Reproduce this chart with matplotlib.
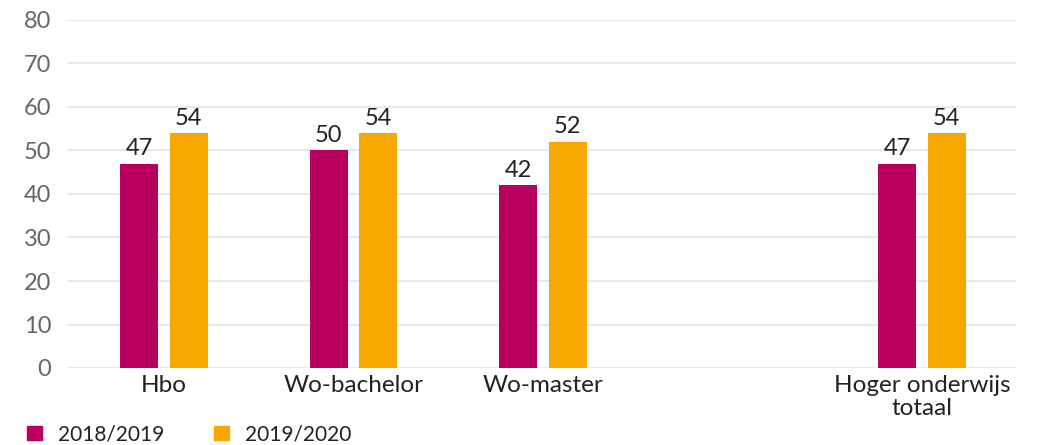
import numpy as np
import matplotlib.pyplot as plt
from matplotlib.patches import Patch

plt.rcParams['font.family'] = ['Lato', 'DejaVu Sans']

categories = ['Hbo', 'Wo-bachelor', 'Wo-master', 'Hoger onderwijs\ntotaal']
positions = [0, 1, 2, 4]
series_names = ['2018/2019', '2019/2020']
values_1819 = [47, 50, 42, 47]
values_1920 = [54, 54, 52, 54]
colors = ['#b90061', '#f7a800']

fig = plt.figure(figsize=(10.42, 4.45), dpi=100)
ax = fig.add_axes([68 / 1042, 1 - 368 / 445, 948 / 1042, 348 / 445])

x = np.array(positions, dtype=float)
w = 0.2
off = 0.13
b1 = ax.bar(x - off, values_1819, width=w, color=colors[0])
b2 = ax.bar(x + off, values_1920, width=w, color=colors[1])

for bars, vals in ((b1, values_1819), (b2, values_1920)):
    for r, v in zip(bars, vals):
        ax.text(r.get_x() + r.get_width() / 2, v + 1.0, str(v), ha='center', va='bottom',
                fontsize=17, color='#222222')

ax.set_xlim(-0.507, 4.496)
ax.set_ylim(0, 80)
ax.set_yticks(range(0, 81, 10))
ax.grid(axis='y', color='#e8e8e8', linewidth=1.5)
ax.set_axisbelow(True)
for s in ax.spines.values():
    s.set_visible(False)
ax.tick_params(axis='y', length=0, pad=12, labelsize=17, labelcolor='#666666')
ax.tick_params(axis='x', length=0, pad=5, labelsize=17.5, labelcolor='#222222')
ax.set_xticks(positions)
ax.set_xticklabels(categories, linespacing=1.1)

handles = [Patch(color=c, label=n) for c, n in zip(colors, series_names)]
fig.legend(handles=handles, loc='center left', bbox_to_anchor=(0.026, 0.024), ncol=2,
           frameon=False, fontsize=15, handlelength=0.72, handleheight=0.72,
           handletextpad=0.77, columnspacing=2.4, borderpad=0, borderaxespad=0,
           labelcolor='#222222')

fig.savefig('out.png', dpi=100)
